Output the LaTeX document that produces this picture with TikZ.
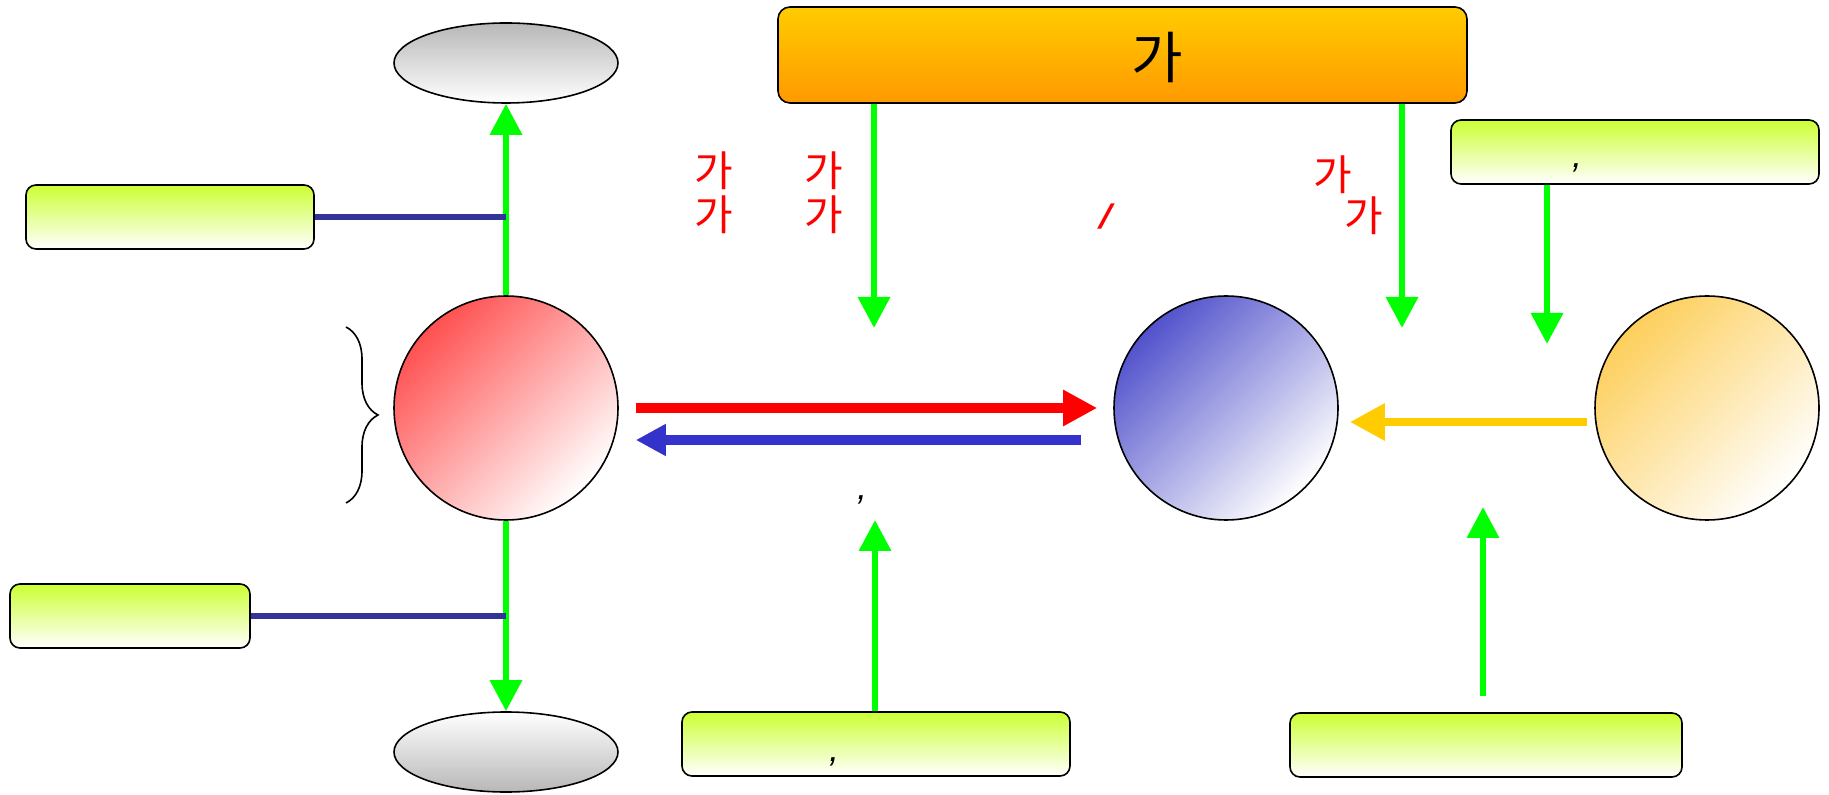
\documentclass[tikz,border=0pt]{standalone}
\usepackage{fontspec}
\setmainfont{Liberation Sans}
\newfontfamily\krfont{Noto Sans CJK KR}
\usetikzlibrary{shapes.geometric, arrows.meta, positioning, calc, decorations.pathreplacing}
\definecolor{limetop}{HTML}{CCFF33}
\definecolor{bartop}{HTML}{FFCC00}
\definecolor{barbot}{HTML}{FF9900}
\definecolor{linkblue}{HTML}{333399}
\definecolor{backblue}{HTML}{3333CC}
\definecolor{flowgreen}{HTML}{00FF00}
\definecolor{feedorange}{HTML}{FFCC00}
\definecolor{ballred}{HTML}{FF5050}
\definecolor{ballblue}{HTML}{5252CC}
\definecolor{ballorange}{HTML}{FDCF5C}

\begin{document}
\begin{tikzpicture}[
  x=0.5pt, y=-0.5pt,
  box/.style={draw, rounded corners=5pt, line width=0.8pt, top color=limetop, bottom color=white, minimum height=32pt, inner sep=0pt},
  ball/.style={circle, draw, line width=0.8pt, minimum size=112pt, inner sep=0pt},
  redball/.style={ball, top color=ballred, bottom color=white, shading angle=45},
  blueball/.style={ball, top color=ballblue, bottom color=white, shading angle=45},
  orangeball/.style={ball, top color=ballorange, bottom color=white, shading angle=45},
  pod/.style={ellipse, draw, line width=0.8pt, minimum width=112pt, minimum height=40pt, inner sep=0pt},
  garr/.style={-{Triangle[length=15.5pt,width=15.5pt]}, line width=3.2pt, flowgreen},
  fwdarr/.style={-{Triangle[length=17pt,width=17pt]}, line width=4.6pt, red},
  backarr/.style={-{Triangle[length=15pt,width=15pt]}, line width=4.6pt, backblue},
  feedarr/.style={-{Triangle[length=17.5pt,width=17.5pt]}, line width=4.4pt, feedorange},
  link/.style={line width=3pt, linkblue},
  redtxt/.style={font=\krfont\fontsize{21}{24}\selectfont, text=red, inner sep=0pt},
  commatxt/.style={font=\itshape\fontsize{18}{20}\selectfont, inner sep=0pt},
]
  \useasboundingbox (0,0) rectangle (1829,795);

  % Nodes
  \node[draw, rounded corners=6pt, line width=0.8pt, top color=bartop, bottom color=barbot,
        minimum width=344.5pt, minimum height=48pt, inner sep=0pt] (bar) at (1122.5,55) {};
  \node[font=\krfont\fontsize{28}{32}\selectfont, inner sep=0pt] (bartext) at (1157,58) {가};

  \node[redball] (source) at (506,408) {};
  \node[blueball] (target) at (1226,408) {};
  \node[orangeball] (helper) at (1707,408) {};

  \node[pod, top color=black!28, bottom color=white] (upper) at (506,63) {};
  \node[pod, top color=white, bottom color=black!28] (lower) at (506,752) {};

  \node[box, minimum width=144pt] (leftA) at (170,217) {};
  \node[box, minimum width=120pt] (leftB) at (130,616) {};
  \node[box, minimum width=184pt] (rightA) at (1635,152) {};
  \node[box, minimum width=194pt] (bottomA) at (876,744) {};
  \node[box, minimum width=196pt] (bottomB) at (1486,745) {};

  \node[commatxt] (commaR) at (1577,168) {,};
  \node[commatxt] (commaB) at (834,762) {,};
  \node[commatxt] (commaM) at (862,500) {,};

  \node[redtxt] (kaA) at (714,171) {가};
  \node[redtxt] (kaB) at (714,215) {가};
  \node[redtxt] (kaC) at (824,171) {가};
  \node[redtxt] (kaD) at (824,215) {가};
  \node[redtxt] (kaE) at (1333,175) {가};
  \node[redtxt] (kaF) at (1364,216) {가};
  \node[redtxt, font=\bfseries\fontsize{17}{20}\selectfont, xslant=0.35] (slash) at (1106,217) {/};

  \coordinate (dropA) at (874,328);
  \coordinate (dropB) at (1402,328);
  \coordinate (dropC) at (1547,344);
  \coordinate (riseA) at (875,520);
  \coordinate (riseB) at (1483,507);
  \coordinate (riseBfoot) at (1483,696);

  % Arrows
  \draw[garr] (source.north) -- (upper.south);
  \draw[garr] (source.south) -- (lower.north);
  \draw[link] (leftA.east) -- (leftA.east -| source.center);
  \draw[link] (leftB.east) -- (leftB.east -| source.center);

  \draw[fwdarr, shorten <=8.5pt, shorten >=8pt] (source.east) -- (target.west);
  \draw[backarr, shorten <=16pt, shorten >=8.5pt] ([yshift=-16pt]target.west) -- ([yshift=-16pt]source.east);
  \draw[feedarr, shorten <=3.5pt, shorten >=5.5pt] ([yshift=-7pt]helper.west) -- ([yshift=-7pt]target.east);

  \draw[garr] (bar.south -| dropA) -- (dropA);
  \draw[garr] (bar.south -| dropB) -- (dropB);
  \draw[garr] (rightA.south -| dropC) -- (dropC);
  \draw[garr] (bottomA.north -| riseA) -- (riseA);
  \draw[garr] (riseBfoot) -- (riseB);

  % Brace
  \draw[decorate, decoration={brace, amplitude=16pt}, line width=0.8pt] (346,327) -- (346,503);

\end{tikzpicture}
\end{document}
